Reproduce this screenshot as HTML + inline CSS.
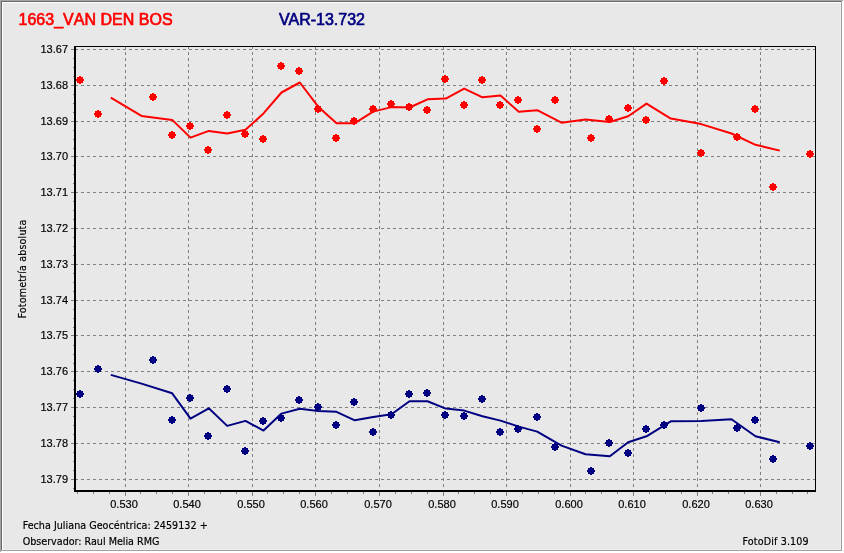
<!DOCTYPE html>
<html lang="es"><head><meta charset="utf-8"><title>1663_VAN DEN BOS</title>
<style>
html,body{margin:0;padding:0;background:#e8e8e8;}
body{width:844px;height:553px;overflow:hidden;position:relative;}
svg{position:absolute;left:0;top:0;display:block;}
.ar{font-family:"Liberation Sans",Arial,sans-serif;}
.tt{font-kerning:none;letter-spacing:0.02px;}
svg{will-change:transform;}
text[fill="#000"]{stroke:#000;stroke-width:0.18px;}
.th{font-family:"DejaVu Sans Condensed","DejaVu Sans","Liberation Sans",sans-serif;}
</style></head><body>
<svg width="844" height="553" viewBox="0 0 844 553">
<rect x="0" y="0" width="844" height="553" fill="#e8e8e8"/>
<g shape-rendering="crispEdges">
<rect x="0" y="0" width="844" height="1" fill="#a5a5a5"/>
<rect x="0" y="0" width="1" height="553" fill="#a5a5a5"/>
<rect x="1" y="1" width="841" height="1" fill="#696969"/>
<rect x="1" y="1" width="1" height="550" fill="#696969"/>
<rect x="2" y="2" width="839" height="1" fill="#ffffff"/>
<rect x="2" y="2" width="1" height="548" fill="#ffffff"/>
<rect x="842" y="1" width="1" height="552" fill="#ffffff"/>
<rect x="843" y="0" width="1" height="553" fill="#ffffff"/>
<rect x="1" y="551" width="843" height="1" fill="#ffffff"/>
<rect x="0" y="552" width="844" height="1" fill="#ffffff"/>
<rect x="841" y="1" width="1" height="550" fill="#a0a0a0"/>
<rect x="1" y="550" width="841" height="1" fill="#a0a0a0"/>
<rect x="840" y="3" width="1" height="547" fill="#eeeeee"/>
<rect x="3" y="549" width="838" height="1" fill="#eeeeee"/>
<line x1="75" y1="49.5" x2="815" y2="49.5" stroke="#808080" stroke-width="1" stroke-dasharray="3 3"/>
<line x1="75" y1="85.5" x2="815" y2="85.5" stroke="#808080" stroke-width="1" stroke-dasharray="3 3"/>
<line x1="75" y1="121.5" x2="815" y2="121.5" stroke="#808080" stroke-width="1" stroke-dasharray="3 3"/>
<line x1="75" y1="156.5" x2="815" y2="156.5" stroke="#808080" stroke-width="1" stroke-dasharray="3 3"/>
<line x1="75" y1="192.5" x2="815" y2="192.5" stroke="#808080" stroke-width="1" stroke-dasharray="3 3"/>
<line x1="75" y1="228.5" x2="815" y2="228.5" stroke="#808080" stroke-width="1" stroke-dasharray="3 3"/>
<line x1="75" y1="264.5" x2="815" y2="264.5" stroke="#808080" stroke-width="1" stroke-dasharray="3 3"/>
<line x1="75" y1="300.5" x2="815" y2="300.5" stroke="#808080" stroke-width="1" stroke-dasharray="3 3"/>
<line x1="75" y1="335.5" x2="815" y2="335.5" stroke="#808080" stroke-width="1" stroke-dasharray="3 3"/>
<line x1="75" y1="371.5" x2="815" y2="371.5" stroke="#808080" stroke-width="1" stroke-dasharray="3 3"/>
<line x1="75" y1="407.5" x2="815" y2="407.5" stroke="#808080" stroke-width="1" stroke-dasharray="3 3"/>
<line x1="75" y1="443.5" x2="815" y2="443.5" stroke="#808080" stroke-width="1" stroke-dasharray="3 3"/>
<line x1="75" y1="479.5" x2="815" y2="479.5" stroke="#808080" stroke-width="1" stroke-dasharray="3 3"/>
<line x1="125.5" y1="46" x2="125.5" y2="490" stroke="#808080" stroke-width="1" stroke-dasharray="3 3"/>
<line x1="188.5" y1="46" x2="188.5" y2="490" stroke="#808080" stroke-width="1" stroke-dasharray="3 3"/>
<line x1="252.5" y1="46" x2="252.5" y2="490" stroke="#808080" stroke-width="1" stroke-dasharray="3 3"/>
<line x1="315.5" y1="46" x2="315.5" y2="490" stroke="#808080" stroke-width="1" stroke-dasharray="3 3"/>
<line x1="379.5" y1="46" x2="379.5" y2="490" stroke="#808080" stroke-width="1" stroke-dasharray="3 3"/>
<line x1="443.5" y1="46" x2="443.5" y2="490" stroke="#808080" stroke-width="1" stroke-dasharray="3 3"/>
<line x1="506.5" y1="46" x2="506.5" y2="490" stroke="#808080" stroke-width="1" stroke-dasharray="3 3"/>
<line x1="570.5" y1="46" x2="570.5" y2="490" stroke="#808080" stroke-width="1" stroke-dasharray="3 3"/>
<line x1="633.5" y1="46" x2="633.5" y2="490" stroke="#808080" stroke-width="1" stroke-dasharray="3 3"/>
<line x1="697.5" y1="46" x2="697.5" y2="490" stroke="#808080" stroke-width="1" stroke-dasharray="3 3"/>
<line x1="760.5" y1="46" x2="760.5" y2="490" stroke="#808080" stroke-width="1" stroke-dasharray="3 3"/>
<rect x="71" y="49" width="3" height="1" fill="#808080"/>
<rect x="73" y="58" width="1" height="1" fill="#808080"/>
<rect x="73" y="67" width="1" height="1" fill="#808080"/>
<rect x="73" y="76" width="1" height="1" fill="#808080"/>
<rect x="71" y="85" width="3" height="1" fill="#808080"/>
<rect x="73" y="94" width="1" height="1" fill="#808080"/>
<rect x="73" y="103" width="1" height="1" fill="#808080"/>
<rect x="73" y="112" width="1" height="1" fill="#808080"/>
<rect x="71" y="121" width="3" height="1" fill="#808080"/>
<rect x="73" y="130" width="1" height="1" fill="#808080"/>
<rect x="73" y="139" width="1" height="1" fill="#808080"/>
<rect x="73" y="148" width="1" height="1" fill="#808080"/>
<rect x="71" y="156" width="3" height="1" fill="#808080"/>
<rect x="73" y="165" width="1" height="1" fill="#808080"/>
<rect x="73" y="174" width="1" height="1" fill="#808080"/>
<rect x="73" y="183" width="1" height="1" fill="#808080"/>
<rect x="71" y="192" width="3" height="1" fill="#808080"/>
<rect x="73" y="201" width="1" height="1" fill="#808080"/>
<rect x="73" y="210" width="1" height="1" fill="#808080"/>
<rect x="73" y="219" width="1" height="1" fill="#808080"/>
<rect x="71" y="228" width="3" height="1" fill="#808080"/>
<rect x="73" y="237" width="1" height="1" fill="#808080"/>
<rect x="73" y="246" width="1" height="1" fill="#808080"/>
<rect x="73" y="255" width="1" height="1" fill="#808080"/>
<rect x="71" y="264" width="3" height="1" fill="#808080"/>
<rect x="73" y="273" width="1" height="1" fill="#808080"/>
<rect x="73" y="282" width="1" height="1" fill="#808080"/>
<rect x="73" y="291" width="1" height="1" fill="#808080"/>
<rect x="71" y="300" width="3" height="1" fill="#808080"/>
<rect x="73" y="309" width="1" height="1" fill="#808080"/>
<rect x="73" y="318" width="1" height="1" fill="#808080"/>
<rect x="73" y="327" width="1" height="1" fill="#808080"/>
<rect x="71" y="335" width="3" height="1" fill="#808080"/>
<rect x="73" y="345" width="1" height="1" fill="#808080"/>
<rect x="73" y="354" width="1" height="1" fill="#808080"/>
<rect x="73" y="363" width="1" height="1" fill="#808080"/>
<rect x="71" y="371" width="3" height="1" fill="#808080"/>
<rect x="73" y="380" width="1" height="1" fill="#808080"/>
<rect x="73" y="389" width="1" height="1" fill="#808080"/>
<rect x="73" y="398" width="1" height="1" fill="#808080"/>
<rect x="71" y="407" width="3" height="1" fill="#808080"/>
<rect x="73" y="416" width="1" height="1" fill="#808080"/>
<rect x="73" y="425" width="1" height="1" fill="#808080"/>
<rect x="73" y="434" width="1" height="1" fill="#808080"/>
<rect x="71" y="443" width="3" height="1" fill="#808080"/>
<rect x="73" y="452" width="1" height="1" fill="#808080"/>
<rect x="73" y="461" width="1" height="1" fill="#808080"/>
<rect x="73" y="470" width="1" height="1" fill="#808080"/>
<rect x="71" y="479" width="3" height="1" fill="#808080"/>
<rect x="73" y="488" width="1" height="1" fill="#808080"/>
<rect x="125" y="492" width="1" height="4" fill="#808080"/>
<rect x="109" y="492" width="1" height="2" fill="#808080"/>
<rect x="93" y="492" width="1" height="2" fill="#808080"/>
<rect x="77" y="492" width="1" height="2" fill="#808080"/>
<rect x="188" y="492" width="1" height="4" fill="#808080"/>
<rect x="172" y="492" width="1" height="2" fill="#808080"/>
<rect x="156" y="492" width="1" height="2" fill="#808080"/>
<rect x="140" y="492" width="1" height="2" fill="#808080"/>
<rect x="252" y="492" width="1" height="4" fill="#808080"/>
<rect x="236" y="492" width="1" height="2" fill="#808080"/>
<rect x="220" y="492" width="1" height="2" fill="#808080"/>
<rect x="204" y="492" width="1" height="2" fill="#808080"/>
<rect x="315" y="492" width="1" height="4" fill="#808080"/>
<rect x="299" y="492" width="1" height="2" fill="#808080"/>
<rect x="283" y="492" width="1" height="2" fill="#808080"/>
<rect x="267" y="492" width="1" height="2" fill="#808080"/>
<rect x="379" y="492" width="1" height="4" fill="#808080"/>
<rect x="363" y="492" width="1" height="2" fill="#808080"/>
<rect x="347" y="492" width="1" height="2" fill="#808080"/>
<rect x="331" y="492" width="1" height="2" fill="#808080"/>
<rect x="443" y="492" width="1" height="4" fill="#808080"/>
<rect x="427" y="492" width="1" height="2" fill="#808080"/>
<rect x="411" y="492" width="1" height="2" fill="#808080"/>
<rect x="395" y="492" width="1" height="2" fill="#808080"/>
<rect x="506" y="492" width="1" height="4" fill="#808080"/>
<rect x="490" y="492" width="1" height="2" fill="#808080"/>
<rect x="474" y="492" width="1" height="2" fill="#808080"/>
<rect x="458" y="492" width="1" height="2" fill="#808080"/>
<rect x="570" y="492" width="1" height="4" fill="#808080"/>
<rect x="554" y="492" width="1" height="2" fill="#808080"/>
<rect x="538" y="492" width="1" height="2" fill="#808080"/>
<rect x="522" y="492" width="1" height="2" fill="#808080"/>
<rect x="633" y="492" width="1" height="4" fill="#808080"/>
<rect x="617" y="492" width="1" height="2" fill="#808080"/>
<rect x="601" y="492" width="1" height="2" fill="#808080"/>
<rect x="585" y="492" width="1" height="2" fill="#808080"/>
<rect x="697" y="492" width="1" height="4" fill="#808080"/>
<rect x="681" y="492" width="1" height="2" fill="#808080"/>
<rect x="665" y="492" width="1" height="2" fill="#808080"/>
<rect x="649" y="492" width="1" height="2" fill="#808080"/>
<rect x="760" y="492" width="1" height="4" fill="#808080"/>
<rect x="744" y="492" width="1" height="2" fill="#808080"/>
<rect x="728" y="492" width="1" height="2" fill="#808080"/>
<rect x="712" y="492" width="1" height="2" fill="#808080"/>
<rect x="776" y="492" width="1" height="2" fill="#808080"/>
<rect x="792" y="492" width="1" height="2" fill="#808080"/>
<rect x="807" y="492" width="1" height="2" fill="#808080"/>
<rect x="74" y="46" width="2" height="446" fill="#000"/>
<rect x="74" y="490" width="742" height="2" fill="#000"/>
<rect x="74" y="46" width="742" height="1" fill="#000"/>
<rect x="815" y="46" width="1" height="446" fill="#000"/>
</g>
<polyline points="110.3,97.0 141.0,115.3 171.7,119.3 190.0,137.0 208.3,130.3 226.7,132.9 245.0,129.2 263.0,112.8 281.0,91.9 299.3,81.9 317.7,106.1 336.0,122.7 354.3,122.6 372.7,111.0 391.0,106.5 409.0,106.9 427.0,98.7 445.3,98.0 463.7,88.0 482.0,96.7 500.0,95.0 518.3,111.2 536.7,109.6 561.0,122.1 585.0,118.8 609.3,121.4 627.7,115.6 646.0,103.0 670.3,118.0 700.7,123.5 731.0,132.9 755.0,144.2 779.3,150.0" fill="none" stroke="#ff0000" stroke-width="2" stroke-linejoin="round" transform="translate(0.5,0.6)"/>
<path shape-rendering="crispEdges" fill="#ff0000" d="M79 76h2v1h2v2h1v2h-1v2h-2v1h-2v-1h-2v-2h-1v-2h1v-2h2z"/>
<path shape-rendering="crispEdges" fill="#ff0000" d="M97 110h2v1h2v2h1v2h-1v2h-2v1h-2v-1h-2v-2h-1v-2h1v-2h2z"/>
<path shape-rendering="crispEdges" fill="#ff0000" d="M152 93h2v1h2v2h1v2h-1v2h-2v1h-2v-1h-2v-2h-1v-2h1v-2h2z"/>
<path shape-rendering="crispEdges" fill="#ff0000" d="M171 131h2v1h2v2h1v2h-1v2h-2v1h-2v-1h-2v-2h-1v-2h1v-2h2z"/>
<path shape-rendering="crispEdges" fill="#ff0000" d="M189 122h2v1h2v2h1v2h-1v2h-2v1h-2v-1h-2v-2h-1v-2h1v-2h2z"/>
<path shape-rendering="crispEdges" fill="#ff0000" d="M207 146h2v1h2v2h1v2h-1v2h-2v1h-2v-1h-2v-2h-1v-2h1v-2h2z"/>
<path shape-rendering="crispEdges" fill="#ff0000" d="M226 111h2v1h2v2h1v2h-1v2h-2v1h-2v-1h-2v-2h-1v-2h1v-2h2z"/>
<path shape-rendering="crispEdges" fill="#ff0000" d="M244 130h2v1h2v2h1v2h-1v2h-2v1h-2v-1h-2v-2h-1v-2h1v-2h2z"/>
<path shape-rendering="crispEdges" fill="#ff0000" d="M262 135h2v1h2v2h1v2h-1v2h-2v1h-2v-1h-2v-2h-1v-2h1v-2h2z"/>
<path shape-rendering="crispEdges" fill="#ff0000" d="M280 62h2v1h2v2h1v2h-1v2h-2v1h-2v-1h-2v-2h-1v-2h1v-2h2z"/>
<path shape-rendering="crispEdges" fill="#ff0000" d="M298 67h2v1h2v2h1v2h-1v2h-2v1h-2v-1h-2v-2h-1v-2h1v-2h2z"/>
<path shape-rendering="crispEdges" fill="#ff0000" d="M317 105h2v1h2v2h1v2h-1v2h-2v1h-2v-1h-2v-2h-1v-2h1v-2h2z"/>
<path shape-rendering="crispEdges" fill="#ff0000" d="M335 134h2v1h2v2h1v2h-1v2h-2v1h-2v-1h-2v-2h-1v-2h1v-2h2z"/>
<path shape-rendering="crispEdges" fill="#ff0000" d="M353 117h2v1h2v2h1v2h-1v2h-2v1h-2v-1h-2v-2h-1v-2h1v-2h2z"/>
<path shape-rendering="crispEdges" fill="#ff0000" d="M372 105h2v1h2v2h1v2h-1v2h-2v1h-2v-1h-2v-2h-1v-2h1v-2h2z"/>
<path shape-rendering="crispEdges" fill="#ff0000" d="M390 100h2v1h2v2h1v2h-1v2h-2v1h-2v-1h-2v-2h-1v-2h1v-2h2z"/>
<path shape-rendering="crispEdges" fill="#ff0000" d="M408 103h2v1h2v2h1v2h-1v2h-2v1h-2v-1h-2v-2h-1v-2h1v-2h2z"/>
<path shape-rendering="crispEdges" fill="#ff0000" d="M426 106h2v1h2v2h1v2h-1v2h-2v1h-2v-1h-2v-2h-1v-2h1v-2h2z"/>
<path shape-rendering="crispEdges" fill="#ff0000" d="M444 75h2v1h2v2h1v2h-1v2h-2v1h-2v-1h-2v-2h-1v-2h1v-2h2z"/>
<path shape-rendering="crispEdges" fill="#ff0000" d="M463 101h2v1h2v2h1v2h-1v2h-2v1h-2v-1h-2v-2h-1v-2h1v-2h2z"/>
<path shape-rendering="crispEdges" fill="#ff0000" d="M481 76h2v1h2v2h1v2h-1v2h-2v1h-2v-1h-2v-2h-1v-2h1v-2h2z"/>
<path shape-rendering="crispEdges" fill="#ff0000" d="M499 101h2v1h2v2h1v2h-1v2h-2v1h-2v-1h-2v-2h-1v-2h1v-2h2z"/>
<path shape-rendering="crispEdges" fill="#ff0000" d="M517 96h2v1h2v2h1v2h-1v2h-2v1h-2v-1h-2v-2h-1v-2h1v-2h2z"/>
<path shape-rendering="crispEdges" fill="#ff0000" d="M536 125h2v1h2v2h1v2h-1v2h-2v1h-2v-1h-2v-2h-1v-2h1v-2h2z"/>
<path shape-rendering="crispEdges" fill="#ff0000" d="M554 96h2v1h2v2h1v2h-1v2h-2v1h-2v-1h-2v-2h-1v-2h1v-2h2z"/>
<path shape-rendering="crispEdges" fill="#ff0000" d="M590 134h2v1h2v2h1v2h-1v2h-2v1h-2v-1h-2v-2h-1v-2h1v-2h2z"/>
<path shape-rendering="crispEdges" fill="#ff0000" d="M608 115h2v1h2v2h1v2h-1v2h-2v1h-2v-1h-2v-2h-1v-2h1v-2h2z"/>
<path shape-rendering="crispEdges" fill="#ff0000" d="M627 104h2v1h2v2h1v2h-1v2h-2v1h-2v-1h-2v-2h-1v-2h1v-2h2z"/>
<path shape-rendering="crispEdges" fill="#ff0000" d="M645 116h2v1h2v2h1v2h-1v2h-2v1h-2v-1h-2v-2h-1v-2h1v-2h2z"/>
<path shape-rendering="crispEdges" fill="#ff0000" d="M663 77h2v1h2v2h1v2h-1v2h-2v1h-2v-1h-2v-2h-1v-2h1v-2h2z"/>
<path shape-rendering="crispEdges" fill="#ff0000" d="M700 149h2v1h2v2h1v2h-1v2h-2v1h-2v-1h-2v-2h-1v-2h1v-2h2z"/>
<path shape-rendering="crispEdges" fill="#ff0000" d="M736 133h2v1h2v2h1v2h-1v2h-2v1h-2v-1h-2v-2h-1v-2h1v-2h2z"/>
<path shape-rendering="crispEdges" fill="#ff0000" d="M754 105h2v1h2v2h1v2h-1v2h-2v1h-2v-1h-2v-2h-1v-2h1v-2h2z"/>
<path shape-rendering="crispEdges" fill="#ff0000" d="M772 183h2v1h2v2h1v2h-1v2h-2v1h-2v-1h-2v-2h-1v-2h1v-2h2z"/>
<path shape-rendering="crispEdges" fill="#ff0000" d="M809 150h2v1h2v2h1v2h-1v2h-2v1h-2v-1h-2v-2h-1v-2h1v-2h2z"/>
<polyline points="110.3,374.3 141.0,383.0 171.7,392.7 190.0,418.0 208.3,407.7 226.7,425.3 245.0,420.3 263.0,430.0 281.0,413.0 299.3,408.2 317.7,410.5 336.0,411.2 354.3,419.7 372.7,416.3 391.0,413.7 409.0,400.7 427.0,400.7 445.3,408.0 463.7,410.0 482.0,415.7 500.0,420.0 518.3,426.0 536.7,431.0 561.0,445.0 585.0,453.7 609.3,455.7 627.7,441.7 646.0,435.7 670.3,420.7 700.7,420.3 731.0,418.7 755.0,435.7 779.3,441.7" fill="none" stroke="#000080" stroke-width="2" stroke-linejoin="round" transform="translate(0.5,0.6)"/>
<path shape-rendering="crispEdges" fill="#000080" d="M79 390h2v1h2v2h1v2h-1v2h-2v1h-2v-1h-2v-2h-1v-2h1v-2h2z"/>
<path shape-rendering="crispEdges" fill="#000080" d="M97 365h2v1h2v2h1v2h-1v2h-2v1h-2v-1h-2v-2h-1v-2h1v-2h2z"/>
<path shape-rendering="crispEdges" fill="#000080" d="M152 356h2v1h2v2h1v2h-1v2h-2v1h-2v-1h-2v-2h-1v-2h1v-2h2z"/>
<path shape-rendering="crispEdges" fill="#000080" d="M171 416h2v1h2v2h1v2h-1v2h-2v1h-2v-1h-2v-2h-1v-2h1v-2h2z"/>
<path shape-rendering="crispEdges" fill="#000080" d="M189 394h2v1h2v2h1v2h-1v2h-2v1h-2v-1h-2v-2h-1v-2h1v-2h2z"/>
<path shape-rendering="crispEdges" fill="#000080" d="M207 432h2v1h2v2h1v2h-1v2h-2v1h-2v-1h-2v-2h-1v-2h1v-2h2z"/>
<path shape-rendering="crispEdges" fill="#000080" d="M226 385h2v1h2v2h1v2h-1v2h-2v1h-2v-1h-2v-2h-1v-2h1v-2h2z"/>
<path shape-rendering="crispEdges" fill="#000080" d="M244 447h2v1h2v2h1v2h-1v2h-2v1h-2v-1h-2v-2h-1v-2h1v-2h2z"/>
<path shape-rendering="crispEdges" fill="#000080" d="M262 417h2v1h2v2h1v2h-1v2h-2v1h-2v-1h-2v-2h-1v-2h1v-2h2z"/>
<path shape-rendering="crispEdges" fill="#000080" d="M280 414h2v1h2v2h1v2h-1v2h-2v1h-2v-1h-2v-2h-1v-2h1v-2h2z"/>
<path shape-rendering="crispEdges" fill="#000080" d="M298 396h2v1h2v2h1v2h-1v2h-2v1h-2v-1h-2v-2h-1v-2h1v-2h2z"/>
<path shape-rendering="crispEdges" fill="#000080" d="M317 403h2v1h2v2h1v2h-1v2h-2v1h-2v-1h-2v-2h-1v-2h1v-2h2z"/>
<path shape-rendering="crispEdges" fill="#000080" d="M335 421h2v1h2v2h1v2h-1v2h-2v1h-2v-1h-2v-2h-1v-2h1v-2h2z"/>
<path shape-rendering="crispEdges" fill="#000080" d="M353 398h2v1h2v2h1v2h-1v2h-2v1h-2v-1h-2v-2h-1v-2h1v-2h2z"/>
<path shape-rendering="crispEdges" fill="#000080" d="M372 428h2v1h2v2h1v2h-1v2h-2v1h-2v-1h-2v-2h-1v-2h1v-2h2z"/>
<path shape-rendering="crispEdges" fill="#000080" d="M390 411h2v1h2v2h1v2h-1v2h-2v1h-2v-1h-2v-2h-1v-2h1v-2h2z"/>
<path shape-rendering="crispEdges" fill="#000080" d="M408 390h2v1h2v2h1v2h-1v2h-2v1h-2v-1h-2v-2h-1v-2h1v-2h2z"/>
<path shape-rendering="crispEdges" fill="#000080" d="M426 389h2v1h2v2h1v2h-1v2h-2v1h-2v-1h-2v-2h-1v-2h1v-2h2z"/>
<path shape-rendering="crispEdges" fill="#000080" d="M444 411h2v1h2v2h1v2h-1v2h-2v1h-2v-1h-2v-2h-1v-2h1v-2h2z"/>
<path shape-rendering="crispEdges" fill="#000080" d="M463 412h2v1h2v2h1v2h-1v2h-2v1h-2v-1h-2v-2h-1v-2h1v-2h2z"/>
<path shape-rendering="crispEdges" fill="#000080" d="M481 395h2v1h2v2h1v2h-1v2h-2v1h-2v-1h-2v-2h-1v-2h1v-2h2z"/>
<path shape-rendering="crispEdges" fill="#000080" d="M499 428h2v1h2v2h1v2h-1v2h-2v1h-2v-1h-2v-2h-1v-2h1v-2h2z"/>
<path shape-rendering="crispEdges" fill="#000080" d="M517 425h2v1h2v2h1v2h-1v2h-2v1h-2v-1h-2v-2h-1v-2h1v-2h2z"/>
<path shape-rendering="crispEdges" fill="#000080" d="M536 413h2v1h2v2h1v2h-1v2h-2v1h-2v-1h-2v-2h-1v-2h1v-2h2z"/>
<path shape-rendering="crispEdges" fill="#000080" d="M554 443h2v1h2v2h1v2h-1v2h-2v1h-2v-1h-2v-2h-1v-2h1v-2h2z"/>
<path shape-rendering="crispEdges" fill="#000080" d="M590 467h2v1h2v2h1v2h-1v2h-2v1h-2v-1h-2v-2h-1v-2h1v-2h2z"/>
<path shape-rendering="crispEdges" fill="#000080" d="M608 439h2v1h2v2h1v2h-1v2h-2v1h-2v-1h-2v-2h-1v-2h1v-2h2z"/>
<path shape-rendering="crispEdges" fill="#000080" d="M627 449h2v1h2v2h1v2h-1v2h-2v1h-2v-1h-2v-2h-1v-2h1v-2h2z"/>
<path shape-rendering="crispEdges" fill="#000080" d="M645 425h2v1h2v2h1v2h-1v2h-2v1h-2v-1h-2v-2h-1v-2h1v-2h2z"/>
<path shape-rendering="crispEdges" fill="#000080" d="M663 421h2v1h2v2h1v2h-1v2h-2v1h-2v-1h-2v-2h-1v-2h1v-2h2z"/>
<path shape-rendering="crispEdges" fill="#000080" d="M700 404h2v1h2v2h1v2h-1v2h-2v1h-2v-1h-2v-2h-1v-2h1v-2h2z"/>
<path shape-rendering="crispEdges" fill="#000080" d="M736 424h2v1h2v2h1v2h-1v2h-2v1h-2v-1h-2v-2h-1v-2h1v-2h2z"/>
<path shape-rendering="crispEdges" fill="#000080" d="M754 416h2v1h2v2h1v2h-1v2h-2v1h-2v-1h-2v-2h-1v-2h1v-2h2z"/>
<path shape-rendering="crispEdges" fill="#000080" d="M772 455h2v1h2v2h1v2h-1v2h-2v1h-2v-1h-2v-2h-1v-2h1v-2h2z"/>
<path shape-rendering="crispEdges" fill="#000080" d="M809 442h2v1h2v2h1v2h-1v2h-2v1h-2v-1h-2v-2h-1v-2h1v-2h2z"/>
<text class="ar tt" x="18.5" y="25" font-size="16" fill="#ff0000" stroke="#ff0000" stroke-width="0.65">1663_VAN DEN BOS</text>
<text class="ar" x="279" y="25" font-size="16" fill="#000080" stroke="#000080" stroke-width="0.65">VAR-13.732</text>
<text class="ar" x="68" y="53" font-size="11" text-anchor="end" fill="#000">13.67</text>
<text class="ar" x="68" y="89" font-size="11" text-anchor="end" fill="#000">13.68</text>
<text class="ar" x="68" y="125" font-size="11" text-anchor="end" fill="#000">13.69</text>
<text class="ar" x="68" y="160" font-size="11" text-anchor="end" fill="#000">13.70</text>
<text class="ar" x="68" y="196" font-size="11" text-anchor="end" fill="#000">13.71</text>
<text class="ar" x="68" y="232" font-size="11" text-anchor="end" fill="#000">13.72</text>
<text class="ar" x="68" y="268" font-size="11" text-anchor="end" fill="#000">13.73</text>
<text class="ar" x="68" y="304" font-size="11" text-anchor="end" fill="#000">13.74</text>
<text class="ar" x="68" y="339" font-size="11" text-anchor="end" fill="#000">13.75</text>
<text class="ar" x="68" y="375" font-size="11" text-anchor="end" fill="#000">13.76</text>
<text class="ar" x="68" y="411" font-size="11" text-anchor="end" fill="#000">13.77</text>
<text class="ar" x="68" y="447" font-size="11" text-anchor="end" fill="#000">13.78</text>
<text class="ar" x="68" y="483" font-size="11" text-anchor="end" fill="#000">13.79</text>
<text class="ar" x="124" y="508" font-size="11" text-anchor="middle" fill="#000">0.530</text>
<text class="ar" x="187" y="508" font-size="11" text-anchor="middle" fill="#000">0.540</text>
<text class="ar" x="251" y="508" font-size="11" text-anchor="middle" fill="#000">0.550</text>
<text class="ar" x="314" y="508" font-size="11" text-anchor="middle" fill="#000">0.560</text>
<text class="ar" x="378" y="508" font-size="11" text-anchor="middle" fill="#000">0.570</text>
<text class="ar" x="442" y="508" font-size="11" text-anchor="middle" fill="#000">0.580</text>
<text class="ar" x="505" y="508" font-size="11" text-anchor="middle" fill="#000">0.590</text>
<text class="ar" x="569" y="508" font-size="11" text-anchor="middle" fill="#000">0.600</text>
<text class="ar" x="632" y="508" font-size="11" text-anchor="middle" fill="#000">0.610</text>
<text class="ar" x="696" y="508" font-size="11" text-anchor="middle" fill="#000">0.620</text>
<text class="ar" x="759" y="508" font-size="11" text-anchor="middle" fill="#000">0.630</text>
<text class="th" font-size="10.65" fill="#000" text-anchor="middle" letter-spacing="0.15" transform="translate(26,269) rotate(-90)">Fotometría absoluta</text>
<text class="th" x="22.7" y="529" font-size="10.65" letter-spacing="0.03" fill="#000">Fecha Juliana Geocéntrica: 2459132 +</text>
<text class="th" x="22.7" y="544.5" font-size="10.65" fill="#000">Observador: Raul Melia RMG</text>
<text class="th" x="742.5" y="544.5" font-size="10.65" letter-spacing="0.14" fill="#000">FotoDif 3.109</text>
</svg></body></html>
